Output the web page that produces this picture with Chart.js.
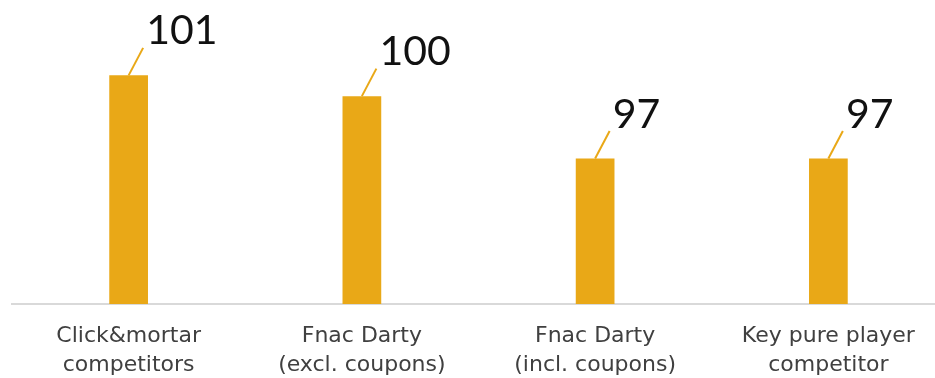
<!DOCTYPE html>
<html>
<head>
<meta charset="utf-8">
<script src="https://cdn.jsdelivr.net/npm/chart.js@4.4.1/dist/chart.umd.min.js"></script>
<style>
  html, body { margin: 0; padding: 0; background: #fff; overflow: hidden; }
  #wrap { position: relative; width: 945px; height: 378px; }
</style>
</head>
<body>
<div id="wrap"><canvas id="priceChart"></canvas></div>
<script>
// categories and values
const categories = [
    ["Click&mortar", "competitors"],
    ["Fnac Darty", "(excl. coupons)"],
    ["Fnac Darty", "(incl. coupons)"],
    ["Key pure player", "competitor"]
];
const priceIndex = [101, 100, 97, 97];

const barColor = "#E9A817";

// leader line + value label above each bar
const leaderLabels = {
    id: "leaderLabels",
    afterDatasetsDraw(chart) {
        const c = chart.ctx;
        const meta = chart.getDatasetMeta(0);
        c.save();
        meta.data.forEach(function (bar, i) {
            const x0 = bar.x, y0 = bar.y;
            const x1 = x0 + 14.5, y1 = y0 - 27.5;
            c.strokeStyle = barColor;
            c.lineWidth = 2;
            c.beginPath();
            c.moveTo(x0, y0);
            c.lineTo(x1, y1);
            c.stroke();
            c.fillStyle = "#111";
            c.font = "41px Lato";
            c.textAlign = "left";
            c.textBaseline = "alphabetic";
            c.fillText(String(priceIndex[i]), x1 + 3, y1 - 3.5);
        });
        c.restore();
    }
};

new Chart(document.getElementById("priceChart").getContext("2d"), {
    type: "bar",
    data: {
        labels: categories,
        datasets: [{
            data: priceIndex,
            backgroundColor: barColor,
            categoryPercentage: 1,
            barPercentage: 0.166
        }]
    },
    options: {
        responsive: true,
        maintainAspectRatio: false,
        animation: false,
        layout: { padding: { left: 12, right: 0, top: 13, bottom: 0 } },
        plugins: {
            legend: { display: false },
            tooltip: { enabled: false }
        },
        scales: {
            x: {
                grid: { display: false, drawTicks: false, tickLength: 0 },
                border: { display: true, color: "#d9d9d9", width: 2 },
                ticks: {
                    color: "#404040",
                    padding: 18,
                    maxRotation: 0,
                    autoSkip: false,
                    font: { family: "DejaVu Sans", size: 22, lineHeight: 1.32 }
                },
                afterFit(scale) { scale.height = 74; }
            },
            y: {
                display: false,
                min: 90,
                max: 104
            }
        }
    },
    plugins: [leaderLabels]
});
</script>
</body>
</html>
